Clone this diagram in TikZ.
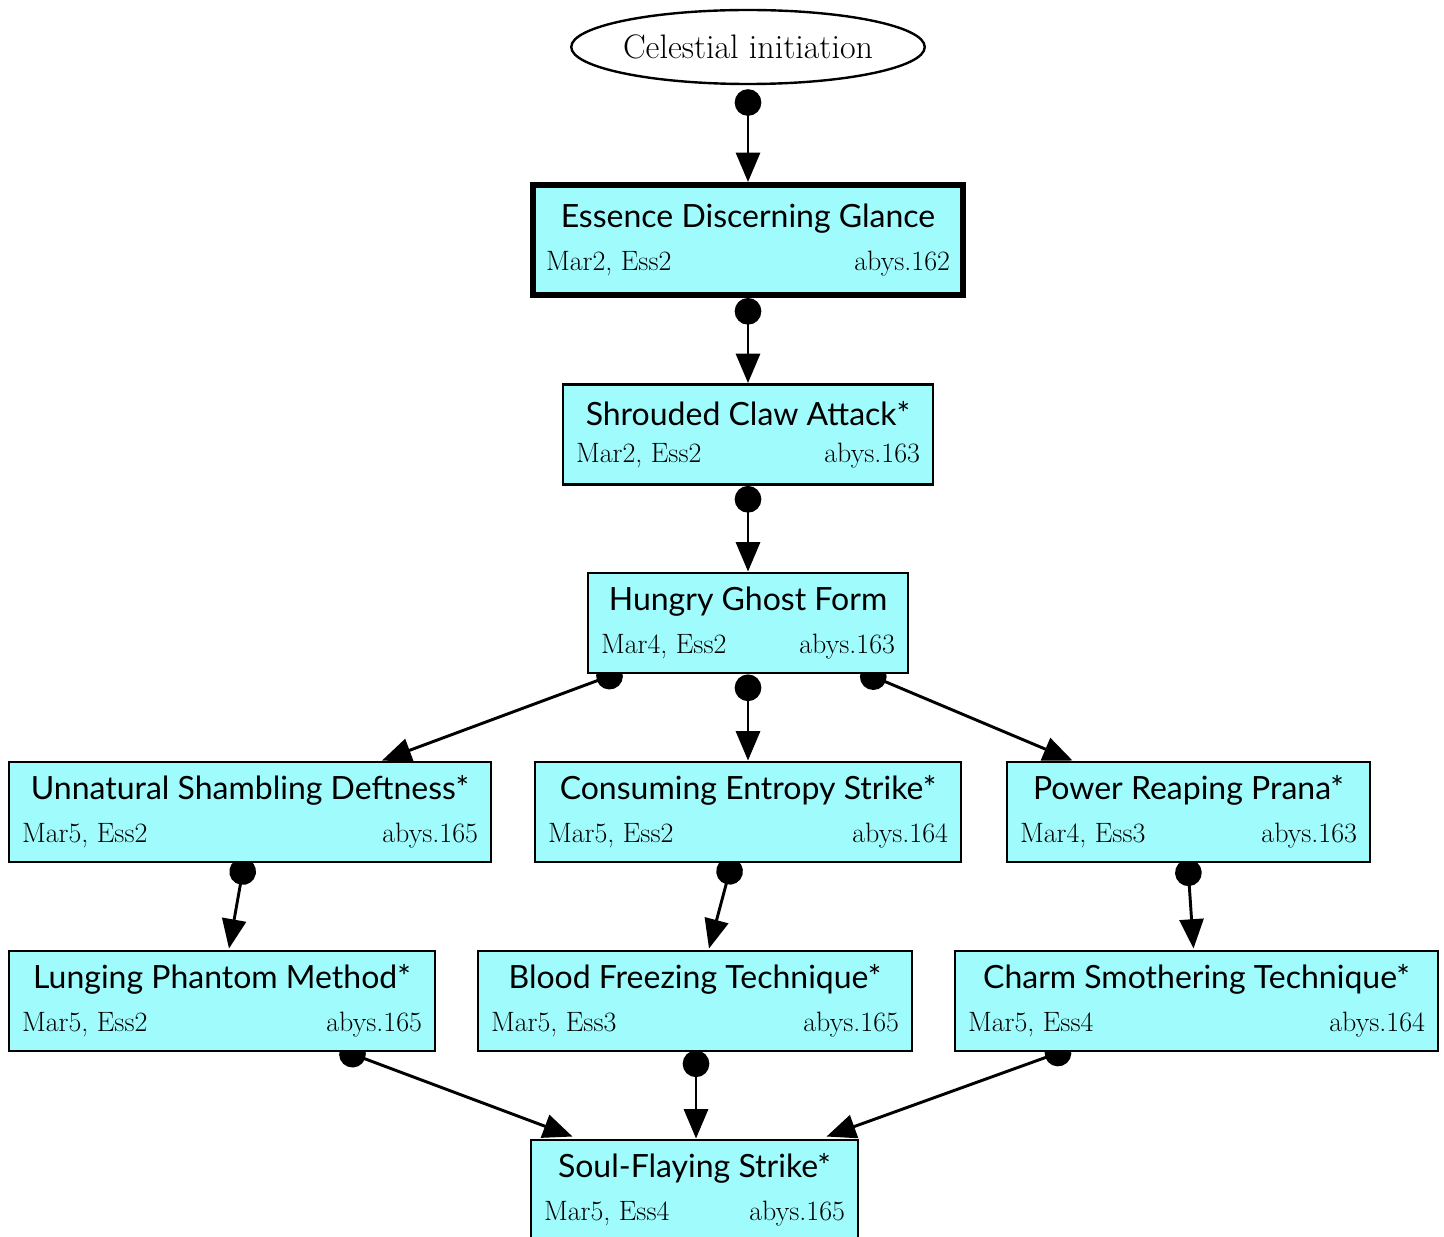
\documentclass[tikz,border=0pt]{standalone}
\usepackage{fontspec}
\usepackage{xcolor}
\usepackage{tikz}
\usetikzlibrary{arrows.meta,calc,shapes.geometric,backgrounds}

\newfontfamily\titlefont{Lato}
\definecolor{charmfill}{RGB}{160,252,252}

% title line, then stats on the left and page reference on the right
\newcommand\charm[4]{\parbox{#1pt}{\centering
    {\titlefont\fontsize{24}{26}\selectfont #2}\\[12pt]
    \makebox[#1pt]{\fontsize{21}{22}\selectfont #3\hfill #4}}}

\begin{document}
\begin{tikzpicture}[
    x=0.75pt, y=-0.75pt,
    charmbox/.style={
        draw=black,
        line width=2.2pt,
        fill=charmfill,
        inner sep=0pt,
        minimum height=75pt,
        align=center
    },
    keycharm/.style={
        charmbox,
        line width=4.5pt,
        minimum height=82.5pt
    },
    start/.style={
        draw=black,
        ellipse,
        line width=1.8pt,
        inner sep=0pt,
        minimum width=261.75pt,
        minimum height=55.5pt,
        font=\fontsize{25.5}{28}\selectfont
    },
    arr/.style={
        {Circle[length=20pt]}-{Triangle[length=22pt,width=18pt]},
        line width=2.2pt
    }
]

\useasboundingbox (0,0) rectangle (1444,1237);

\node[start] (init) at (748,47) {Celestial initiation};

\node[keycharm, minimum width=322.5pt] (edg) at (748,240)
{\charm{303}{Essence Discerning Glance}{Mar2, Ess2}{abys.162}};

\node[charmbox, minimum width=277.5pt] (sca) at (748,434.5)
{\charm{258}{Shrouded Claw Attack*}{Mar2, Ess2}{abys.163}};

\node[charmbox, minimum width=240pt] (hgf) at (748,623)
{\charm{220.5}{Hungry Ghost Form}{Mar4, Ess2}{abys.163}};

\node[charmbox, minimum width=361.5pt] (usd) at (250,812)
{\charm{342}{Unnatural Shambling Deftness*}{Mar5, Ess2}{abys.165}};

\node[charmbox, minimum width=319.5pt] (ces) at (748,812)
{\charm{300}{Consuming Entropy Strike*}{Mar5, Ess2}{abys.164}};

\node[charmbox, minimum width=272.25pt] (prp) at (1188.5,812)
{\charm{252.75}{Power Reaping Prana*}{Mar4, Ess3}{abys.163}};

\node[charmbox, minimum width=319.5pt] (lpm) at (222,1001)
{\charm{300}{Lunging Phantom Method*}{Mar5, Ess2}{abys.165}};

\node[charmbox, minimum width=325.5pt] (bft) at (695,1001)
{\charm{306}{Blood Freezing Technique*}{Mar5, Ess3}{abys.165}};

\node[charmbox, minimum width=362.25pt] (cst) at (1196.5,1001)
{\charm{342.75}{Charm Smothering Technique*}{Mar5, Ess4}{abys.164}};

\node[charmbox, minimum width=245.25pt] (sfs) at (694.5,1190)
{\charm{225.75}{Soul-Flaying Strike*}{Mar5, Ess4}{abys.165}};

% edges sit under the boxes so the tail dots tuck behind the borders
\begin{scope}[on background layer]
\draw[arr] ($(init.south)+(0,4)$) -- (edg.north);
\draw[arr] (edg.south) -- (sca.north);
\draw[arr] (sca.south) -- (hgf.north);

\draw[arr] ($(hgf.south)+(-126,-3)$) -- ($(usd.north)+(132,0)$);
\draw[arr] (hgf.south) -- (ces.north);
\draw[arr] ($(hgf.south)+(113,-3)$) -- ($(prp.north)+(-116,0)$);

\draw[arr] ($(usd.south)+(-5,-5)$) -- ($(lpm.north)+(7,-1)$);
\draw[arr] ($(ces.south)+(-15,-5)$) -- ($(bft.north)+(14,-1)$);
\draw[arr] ($(prp.south)+(-1,-4)$) -- ($(cst.north)+(-3,-1)$);

\draw[arr] ($(lpm.south)+(118,-3)$) -- ($(sfs.north)+(-122,-2)$);
\draw[arr] ($(bft.south)+(1,-2)$) -- ($(sfs.north)+(1.5,0)$);
\draw[arr] ($(cst.south)+(-126,-4)$) -- ($(sfs.north)+(132,-2)$);
\end{scope}

\end{tikzpicture}
\end{document}
